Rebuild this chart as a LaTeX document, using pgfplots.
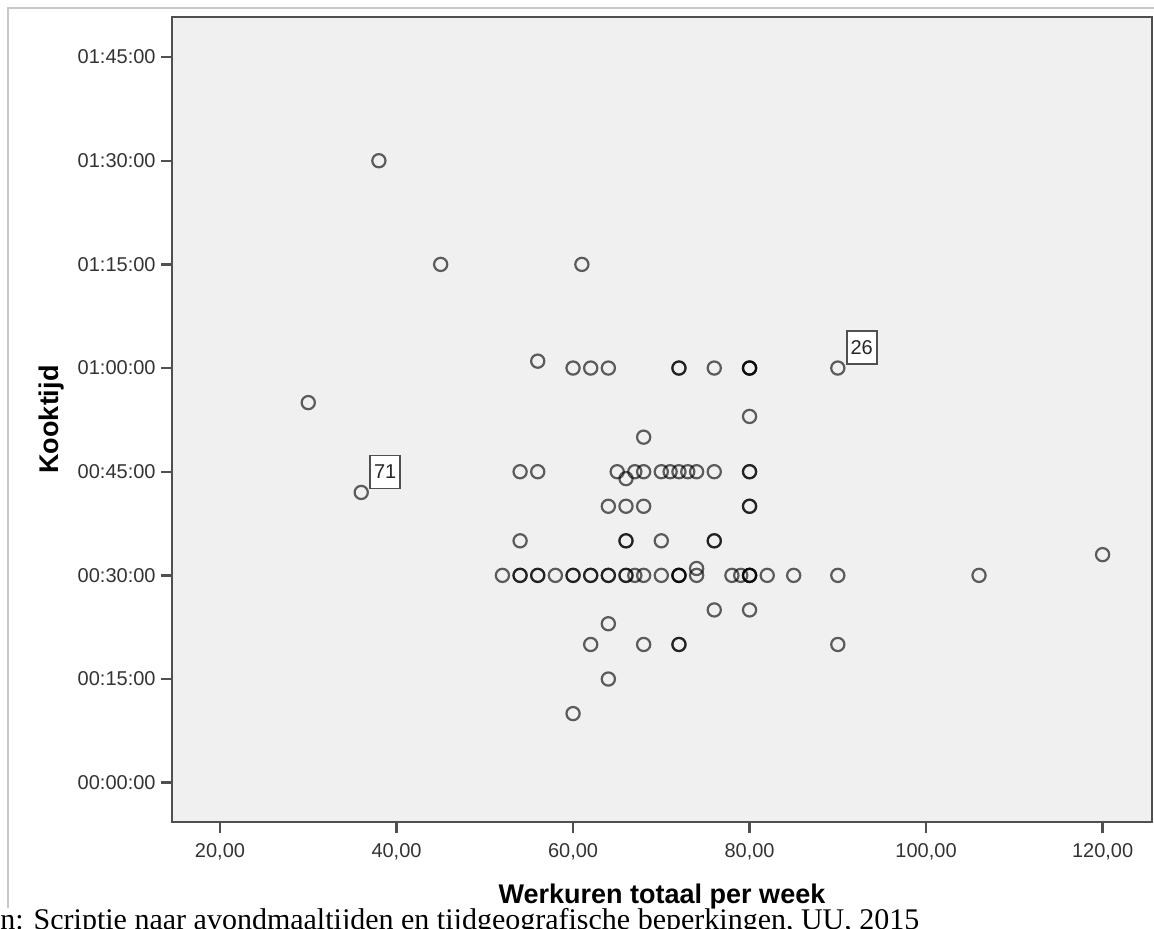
\documentclass[border=0pt]{standalone}
\usepackage{fontspec}
\setmainfont{Liberation Sans}
\newfontfamily\serifcap{Liberation Serif}
\usepackage{pgfplots}
\pgfplotsset{compat=1.18}
\definecolor{plotbg}{HTML}{F0F0F0}
\definecolor{framegrey}{HTML}{C8C8C8}
\definecolor{axisgrey}{HTML}{505050}

\pgfplotstableread{
x y
38 90
45 75
61 75
30 55
36 42
56 61
60 60
62 60
64 60
72 60
72 60
76 60
80 60
80 60
80 60
90 60
80 53
68 50
54 45
56 45
65 45
67 45
68 45
70 45
71 45
72 45
73 45
74 45
76 45
80 45
80 45
66 44
64 40
66 40
68 40
80 40
80 40
54 35
66 35
66 35
70 35
76 35
76 35
52 30
54 30
54 30
56 30
56 30
58 30
60 30
60 30
62 30
62 30
64 30
64 30
66 30
66 30
67 30
68 30
70 30
72 30
72 30
72 30
74 30
78 30
79 30
80 30
80 30
80 30
82 30
85 30
90 30
106 30
120 33
74 31
76 25
80 25
64 23
62 20
68 20
72 20
72 20
90 20
64 15
60 10
}\pts

\begin{document}
\begin{tikzpicture}
\useasboundingbox (0,0) rectangle (577pt,464pt);
\draw[framegrey, line width=0.6pt] (4pt,10pt) -- (4pt,460pt) -- (577pt,460pt);
\begin{axis}[
  at={(86pt,53pt)}, anchor=south west,
  scale only axis, width=490pt, height=402.5pt,
  xmin=14.56, xmax=125.6, ymin=-5.69, ymax=110.8,
  axis background/.style={fill=plotbg},
  axis line style={draw=axisgrey, line width=1.1pt},
  xtick={20,40,60,80,100,120},
  ytick={0,15,30,45,60,75,90,105},
  yticklabels={00:00:00,00:15:00,00:30:00,00:45:00,01:00:00,01:15:00,01:30:00,01:45:00},
  xtick pos=bottom, ytick pos=left, tick align=outside,
  major tick length=5.5pt,
  tick style={draw=axisgrey, line width=1.2pt},
  /pgf/number format/.cd, fixed, fixed zerofill, precision=2, use comma, 1000 sep={}, assume math mode=true,
  /pgfplots/.cd,
  tick label style={font=\fontsize{10}{12}\selectfont, text=black!80, inner sep=0pt},
  yticklabel style={xshift=-2.5pt},
  xticklabel style={yshift=-5pt},
  xlabel={Werkuren totaal per week},
  ylabel={Kooktijd},
  label style={font=\bfseries\fontsize{13.5}{16}\selectfont, text=black},
  xlabel style={at={(axis description cs:0.5,-0.0758)}, anchor=north, inner sep=0pt},
  ylabel style={at={(axis description cs:-0.1163,0.5)}, anchor=base, inner sep=0pt},
]
\addplot[only marks, mark=o, mark size=3.3pt,
  mark options={draw=black, draw opacity=0.62, line width=1.1pt}] table {\pts};
\addplot[only marks, mark=none, nodes near coords, point meta=explicit symbolic,
  nodes near coords style={anchor=south west, draw=axisgrey, line width=0.9pt, fill=white,
    font=\fontsize{10}{12}\selectfont, text=black!85, inner sep=0pt,
    minimum width=15pt, minimum height=16.5pt, xshift=4pt, yshift=1.5pt}]
  table[meta=lab] {
x y lab
36 42 71
90 60 26
};
\end{axis}
\node[anchor=base west, inner sep=0pt, font=\serifcap\fontsize{15}{17}\selectfont, text=black]
  at (0pt,-0.5pt) {n: Scriptie naar avondmaaltijden en tijdgeografische beperkingen, UU, 2015};
\end{tikzpicture}
\end{document}
